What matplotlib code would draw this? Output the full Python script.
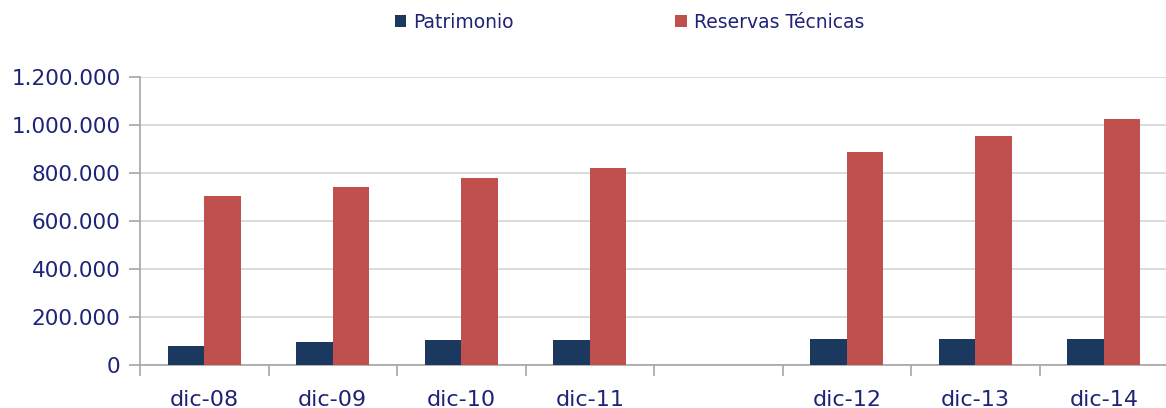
import numpy as np
import matplotlib
matplotlib.use("Agg")
import matplotlib.pyplot as plt
from matplotlib.ticker import FuncFormatter

# data (empty slot between dic-11 and dic-12)
categories = ['dic-08', 'dic-09', 'dic-10', 'dic-11', '', 'dic-12', 'dic-13', 'dic-14']
patrimonio = [80000, 97000, 104000, 104000, np.nan, 110000, 110000, 110000]
reservas = [703000, 740000, 779000, 821000, np.nan, 889000, 955000, 1025000]

navy = '#1B385E'
red = '#C0504D'
txt = '#1F2378'

fig = plt.figure(figsize=(11.66, 4.08), dpi=100)
ax = fig.add_axes([140/1166, 43/408, 1028/1166, 288/408])

x = np.arange(len(categories))
w = 0.2857
ax.bar(x - w/2, patrimonio, w, color=navy, label='Patrimonio', zorder=3)
ax.bar(x + w/2, reservas, w, color=red, label='Reservas Técnicas', zorder=3)

ax.set_xlim(-0.5, len(categories) - 0.5)
ax.set_ylim(0, 1200000)
ax.set_yticks(np.arange(0, 1200001, 200000))
ax.yaxis.set_major_formatter(FuncFormatter(lambda v, p: f'{int(v):,}'.replace(',', '.')))
ax.set_xticks(x)
ax.set_xticklabels(categories)
ax.set_xticks(np.arange(len(categories) + 1) - 0.5, minor=True)

ax.grid(axis='y', color='#D4D4D4', linewidth=1.2, zorder=0)
for s in ['top', 'right']:
    ax.spines[s].set_visible(False)
for s in ['left', 'bottom']:
    ax.spines[s].set_color('#A6A6A6')
    ax.spines[s].set_linewidth(1.2)

ax.tick_params(axis='y', length=8, color='#A6A6A6', width=1.2, labelsize=15.5, labelcolor=txt, pad=6)
ax.tick_params(axis='x', which='major', length=0, labelsize=16, labelcolor=txt, pad=18)
ax.tick_params(axis='x', which='minor', length=8, color='#A6A6A6', width=1.2)

leg = fig.legend(loc='center', bbox_to_anchor=(0.540, 0.945), ncol=2, frameon=False,
                 fontsize=13.5, handlelength=0.6, handleheight=0.6, handletextpad=0.4,
                 columnspacing=8.6)
for t in leg.get_texts():
    t.set_color(txt)

fig.savefig('out.png', dpi=100)
